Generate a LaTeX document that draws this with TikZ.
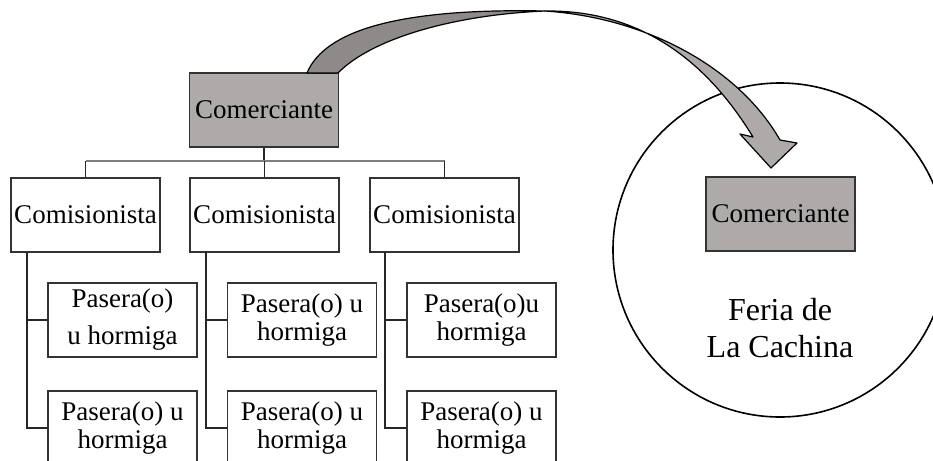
\documentclass[tikz,border=0pt]{standalone}
\usepackage{fontspec}
\setmainfont{Liberation Serif}
\definecolor{boxgray}{HTML}{AEAAAA}
\definecolor{arrowdark}{HTML}{8E8A89}
\definecolor{busgray}{HTML}{7F7F7F}

\tikzset{
	unit/.style={draw=black!80,line width=0.6pt,minimum width=74.5pt,minimum height=37pt,inner sep=0pt,align=center,font=\fontsize{13.5}{14}\selectfont},
	boss/.style={unit,fill=boxgray},
	link/.style={draw=black!85,line width=0.6pt},
	busline/.style={draw=busgray,line width=1pt},
	bigarrow/.style={draw=black,line width=0.6pt,line join=round},
}

\begin{document}
\begin{tikzpicture}[x=0.5pt,y=-0.5pt]
		\clip (0,0) rectangle (933,461);
		% la feria
		\node[draw,circle,line width=0.8pt,minimum size=167pt,inner sep=0pt] (feria) at (780,250) {};
		\node[boss] (jefe2) at (780.5,214) {Comerciante};
		\node[align=center,font=\fontsize{16}{18.5}\selectfont] (lugar) at (780,328) {Feria de\\ La Cachina};
		% la red
		\node[boss] (jefe) at (264,110) {Comerciante};
		\node[unit] (com1) at (85.5,215) {Comisionista};
		\node[unit] (com2) at (264.5,215) {Comisionista};
		\node[unit] (com3) at (444.5,215) {Comisionista};
		\node[unit] (pas11) at (122.5,320) {Pasera(o)\\[4.5pt] u hormiga};
		\node[unit] (pas12) at (122.5,428) {Pasera(o) u\\ hormiga};
		\node[unit] (pas21) at (302,320) {Pasera(o) u\\ hormiga};
		\node[unit] (pas22) at (302,428) {Pasera(o) u\\ hormiga};
		\node[unit] (pas31) at (481.5,320) {Pasera(o)u\\ hormiga};
		\node[unit] (pas32) at (481.5,428) {Pasera(o) u\\ hormiga};
		\coordinate (bus) at (264,161);
		\coordinate (v1) at (27,252);
		\coordinate (v2) at (206,252);
		\coordinate (v3) at (385,252);
		\draw[link] (jefe.south) -- (jefe.south |- bus);
		\draw[busline] (com1.north |- bus) -- (com3.north |- bus);
		\draw[link] (com1.north |- bus) -- (com1.north);
		\draw[link] (com2.north |- bus) -- (com2.north);
		\draw[link] (com3.north |- bus) -- (com3.north);
		\draw[link] (v1) |- (pas12.west);
		\draw[link] (v1 |- pas11.west) -- (pas11.west);
		\draw[link] (v2) |- (pas22.west);
		\draw[link] (v2 |- pas21.west) -- (pas21.west);
		\draw[link] (v3) |- (pas32.west);
		\draw[link] (v3 |- pas31.west) -- (pas31.west);
		% flecha curva
		\filldraw[bigarrow,fill=arrowdark] (307,73) .. controls (325,30) and (400,8) .. (545,11)
			.. controls (450,15) and (370,40) .. (338,73) -- cycle;
		\filldraw[bigarrow,fill=boxgray] (545,11) .. controls (630,10) and (700,50) .. (753,137)
			-- (740,134) -- (771,168) -- (797,143) -- (780,140)
			.. controls (740,70) and (650,18) .. (545,11) -- cycle;
\end{tikzpicture}
\end{document}
